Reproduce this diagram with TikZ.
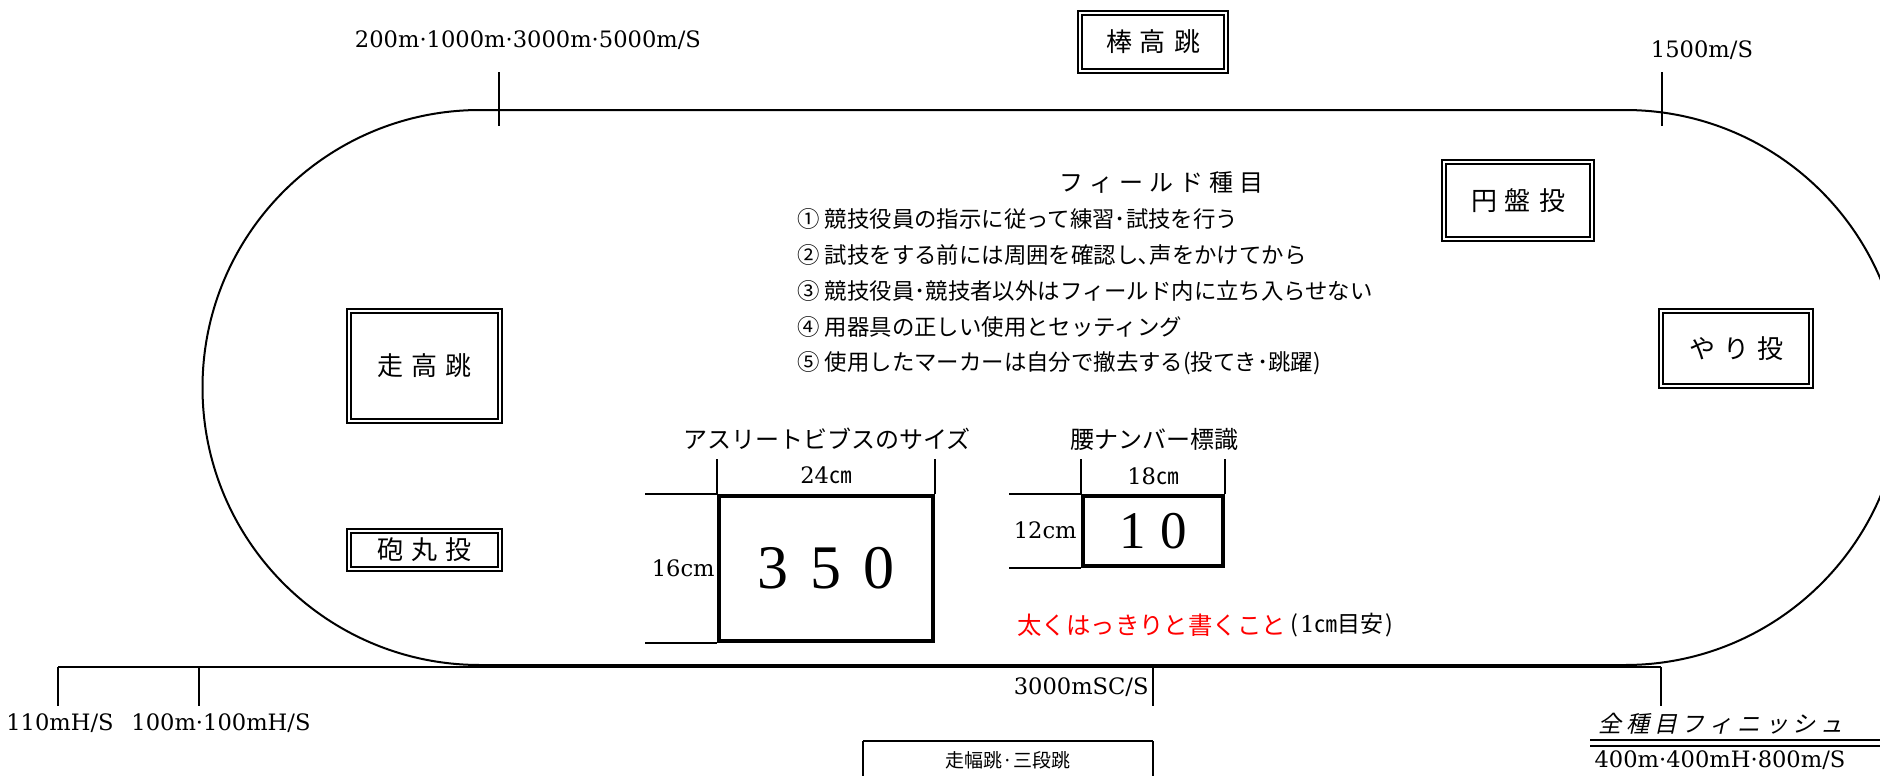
\documentclass[tikz,border=0pt]{standalone}
\usepackage{fontspec}
\setmainfont{DejaVu Serif}
\newfontfamily\jp{Noto Sans CJK JP}
\newfontfamily\jpit[FakeSlant=0.22]{Noto Sans CJK JP}
\newfontfamily\numfont{Liberation Serif}
\newcommand\gp{\hspace{4pt}}
\newcommand\tg{\hspace{3pt}}
\newcommand\fg{\hspace{2.4pt}}
\tikzset{
  lbl/.style={inner sep=0, font=\fontsize{11.3}{13}\selectfont},
  listtxt/.style={inner sep=0, anchor=west, font=\jp\fontsize{11.2}{13}\selectfont},
  head/.style={inner sep=0, font=\jp\fontsize{12}{14}\selectfont},
  evbox/.style={draw, line width=0.9pt, double, double distance=1.3pt, inner sep=0, font=\jp\fontsize{13}{15}\selectfont},
  track/.style={line width=1pt},
  tickline/.style={line width=1pt},
  ext/.style={line width=0.8pt},
  numbox/.style={draw, line width=2pt, inner sep=0},
}
\begin{document}
\begin{tikzpicture}[x=0.5pt,y=-0.5pt]
\useasboundingbox (0,0) rectangle (1880,776);
\clip (0,0) rectangle (1880,776);
% track
\draw[track] (480,110) -- (1625,110) arc[start angle=-90,end angle=90,radius=277.5] -- (480,665) arc[start angle=90,end angle=270,radius=277.5] -- cycle;
% top ticks and labels
\coordinate (t1a) at (499,72); \coordinate (t1b) at (499,126);
\coordinate (t2a) at (1662,72); \coordinate (t2b) at (1662,126);
\draw[tickline] (t1a) -- (t1b);
\draw[tickline] (t2a) -- (t2b);
\node[lbl] (l200) at (528,40) {200m·1000m·3000m·5000m/S};
\node[lbl] (l1500) at (1702,50) {1500m/S};
% bottom line and ticks
\coordinate (bl) at (58,667); \coordinate (br) at (1661,667);
\draw[tickline] (bl) -- (br);
\coordinate (b1) at (58,706); \coordinate (b2a) at (199,667); \coordinate (b2) at (199,706);
\coordinate (b3a) at (1153,667); \coordinate (b3) at (1153,706); \coordinate (b4) at (1661,706);
\draw[tickline] (bl) -- (b1);
\draw[tickline] (b2a) -- (b2);
\draw[tickline] (b3a) -- (b3);
\draw[tickline] (br) -- (b4);
\node[lbl] (l110) at (60,723) {110mH/S};
\node[lbl] (l100) at (221,723) {100m·100mH/S};
\node[lbl, anchor=east] (l3000) at (1149,687) {3000mSC/S};
\node[inner sep=0, anchor=west, font=\jpit\fontsize{11.5}{13}\selectfont] (fin) at (1598,724) {全\fg 種\fg 目\fg フ\fg ィ\fg ニ\fg ッ\fg シ\fg ュ};
\coordinate (d1a) at (1590,740); \coordinate (d1b) at (1880,740);
\coordinate (d2a) at (1590,746); \coordinate (d2b) at (1880,746);
\draw[line width=1.2pt] (d1a) -- (d1b);
\draw[line width=1.2pt] (d2a) -- (d2b);
\node[lbl] (l400) at (1720,760) {400m·400mH·800m/S};
% long jump box (cut by the edge)
\coordinate (lj1) at (863,790); \coordinate (lj2) at (863,741); \coordinate (lj3) at (1153,741); \coordinate (lj4) at (1153,790);
\draw[line width=0.8pt] (lj1) -- (lj2);
\draw[line width=0.8pt] (lj3) -- (lj4);
\draw[line width=1.4pt] (lj2) -- (lj3);
\node[inner sep=0, font=\jp\fontsize{9.5}{11}\selectfont] (ljt) at (1008,760) {走幅跳·三段跳};
% event boxes
\node[evbox, minimum width=72.9pt, minimum height=28.9pt] (pole) at (1153,42) {棒\gp 高\gp 跳};
\node[evbox, minimum width=73.9pt, minimum height=38.4pt] (disc) at (1518,200.5) {円\gp 盤\gp 投};
\node[evbox, minimum width=74.9pt, minimum height=37.4pt] (jav) at (1736,348.5) {や\gp り\gp 投};
\node[evbox, minimum width=75.4pt, minimum height=54.9pt] (hj) at (424.5,366) {走\gp 高\gp 跳};
\node[evbox, minimum width=75.4pt, minimum height=18.9pt] (shot) at (424.5,550) {砲\gp 丸\gp 投};
% field rules
\node[head] (title) at (1161,182) {フ\tg ィ\tg ー\tg ル\tg ド\tg 種\tg 目};
\node[listtxt] (r1) at (797,219) {① 競技役員の指示に従って練習･試技を行う};
\node[listtxt] (r2) at (797,255) {② 試技をする前には周囲を確認し､声をかけてから};
\node[listtxt] (r3) at (797,291) {③ 競技役員･競技者以外はフィールド内に立ち入らせない};
\node[listtxt] (r4) at (797,327) {④ 用器具の正しい使用とセッティング};
\node[listtxt] (r5) at (797,363) {⑤ 使用したマーカーは自分で撤去する(投てき･跳躍)};
% bib
\node[head] (bibt) at (827,439) {アスリートビブスのサイズ};
\node[numbox, minimum width=107pt, minimum height=72.5pt, font=\numfont\fontsize{31}{34}\selectfont] (bib) at (826,568.5) {3\hspace{11pt}5\hspace{11pt}0};
\coordinate (bu1) at (bib.north west |- 0,459); \coordinate (bu2) at (bib.north east |- 0,459);
\coordinate (bl1) at (645,0 |- bib.north west); \coordinate (bl2) at (645,0 |- bib.south west);
\draw[ext] (bu1) -- (bib.north west);
\draw[ext] (bu2) -- (bib.north east);
\draw[ext] (bl1) -- (bib.north west);
\draw[ext] (bl2) -- (bib.south west);
\node[lbl] (w24) at (826,475) {24{\jp ㎝}};
\node[lbl, anchor=east] (h16) at (715,568) {16cm};
% waist number
\node[head] (waistt) at (1154,439) {腰ナンバー標識};
\node[numbox, minimum width=70pt, minimum height=35pt, font=\numfont\fontsize{26.5}{30}\selectfont] (waist) at (1153,531) {1\hspace{7pt}0};
\coordinate (wu1) at (waist.north west |- 0,459); \coordinate (wu2) at (waist.north east |- 0,459);
\coordinate (wl1) at (1009,0 |- waist.north west); \coordinate (wl2) at (1009,0 |- waist.south west);
\draw[ext] (wu1) -- (waist.north west);
\draw[ext] (wu2) -- (waist.north east);
\draw[ext] (wl1) -- (waist.north west);
\draw[ext] (wl2) -- (waist.south west);
\node[lbl] (w18) at (1153,476) {18{\jp ㎝}};
\node[lbl, anchor=east] (h12) at (1077,530) {12cm};
% note
\node[inner sep=0, anchor=west, text=red, font=\jp\fontsize{12.2}{15}\selectfont] (note) at (1017,625) {太くはっきりと書くこと};
\node[inner sep=0, anchor=west, font=\jp\fontsize{11.5}{13}\selectfont] (note2) at (1290,625) {(\hspace{1pt}{\rmfamily 1}㎝目安\hspace{1pt})};
\end{tikzpicture}
\end{document}
